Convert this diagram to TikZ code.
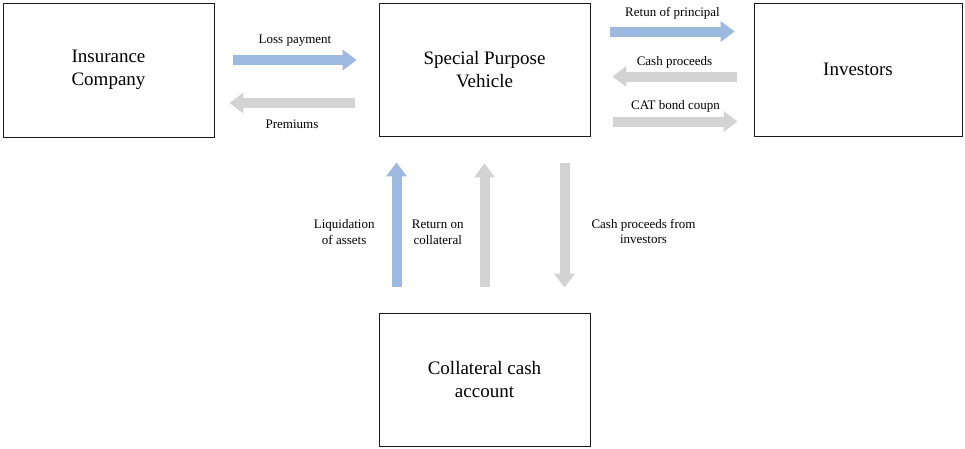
\documentclass[tikz,border=0pt]{standalone}
\usepackage{fontspec}
\setmainfont{Liberation Serif}
\usepackage{tikz}
\usepackage{xcolor}
\usetikzlibrary{arrows.meta,positioning}
\definecolor{CatBlue}{HTML}{9DB9E0}
\definecolor{CatGrey}{HTML}{D3D3D3}
\definecolor{CatInk}{HTML}{1A1A1A}
\tikzset{
  party/.style={draw=CatInk,line width=0.8pt,minimum width=211pt,minimum height=133pt,inner sep=0pt,align=center,font=\fontsize{19}{23}\selectfont},
  payflow/.style={line width=10pt,-{Triangle[length=14pt,width=20pt]}},
  blueflow/.style={payflow,draw=CatBlue,color=CatBlue},
  greyflow/.style={payflow,draw=CatGrey,color=CatGrey},
  flowtext/.style={inner sep=0pt,align=center,text=black,font=\fontsize{13}{15.5}\selectfont}
}
\begin{document}
\begin{tikzpicture}[x=1pt,y=-1pt]
  \useasboundingbox (0,0) rectangle (965,448);
  \node[party,minimum height=134pt] (insurer) at (108.5,70) {Insurance\\Company};
  \node[party] (spv) at (484.5,69.5) {Special Purpose\\Vehicle};
  \node[party,minimum width=208pt] (investors) at (858,69.5) {Investors};
  \node[party] (collateral) at (484.5,379.5) {Collateral cash\\account};
  % insurer <-> spv
  \draw[blueflow] ([xshift=19pt,yshift=9.5pt]spv.west-|insurer.east) -- node[flowtext,above=8.5pt] (losslabel) {Loss payment} ([xshift=-22pt,yshift=9.5pt]spv.west);
  \draw[greyflow] ([xshift=-24pt,yshift=-33.5pt]spv.west) -- node[flowtext,below=11.5pt] (premlabel) {Premiums} ([xshift=15pt,yshift=-33.5pt]spv.west-|insurer.east);
  % spv <-> investors
  \draw[blueflow] ([xshift=20pt,yshift=38pt]spv.east) -- node[flowtext,above=7.5pt] (principallabel) {Retun of principal} ([xshift=-19pt,yshift=38pt]investors.west);
  \draw[greyflow] ([xshift=-17pt,yshift=-7pt]investors.west) -- node[flowtext,above=3.5pt] (proceedslabel) {Cash proceeds} ([xshift=22pt,yshift=-7pt]spv.east);
  \draw[greyflow] ([xshift=23pt,yshift=-52pt]spv.east) -- node[flowtext,above=4.5pt] (couponlabel) {CAT bond coupn} ([xshift=-16pt,yshift=-52pt]investors.west);
  % collateral <-> spv
  \draw[blueflow] ([xshift=-88pt,yshift=26pt]collateral.north) -- node[flowtext,pos=0.44,left=17pt] (liqlabel) {Liquidation\\of assets} ([xshift=-88pt,yshift=-26pt]spv.south);
  \draw[greyflow] ([yshift=26pt]collateral.north) -- node[flowtext,pos=0.44,left=16pt] (returnlabel) {Return on\\collateral} ([yshift=-27pt]spv.south);
  \draw[greyflow] ([xshift=80pt,yshift=-27pt]spv.south) -- node[flowtext,pos=0.55,right=22pt] (fromlabel) {Cash proceeds from\\investors} ([xshift=80pt,yshift=25pt]collateral.north);
\end{tikzpicture}
\end{document}
